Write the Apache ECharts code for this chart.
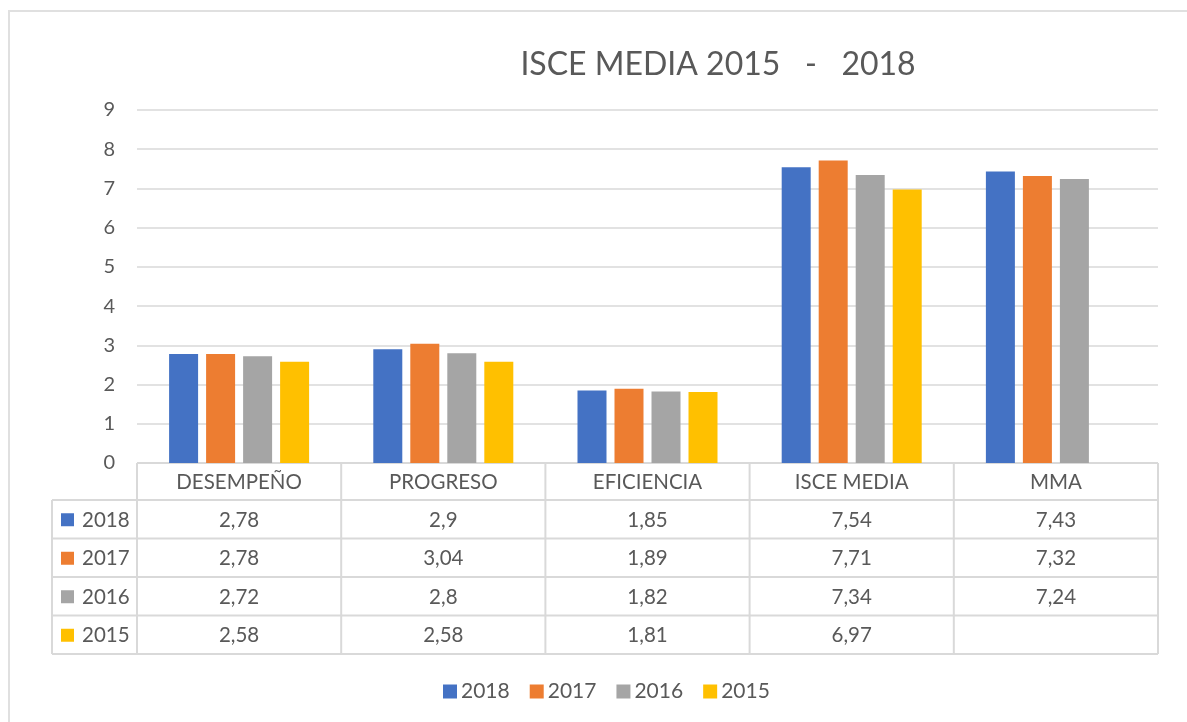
<!DOCTYPE html>
<html>
<head>
<meta charset="utf-8" />
<title>ISCE MEDIA 2015 - 2018</title>
<script src="https://cdn.jsdelivr.net/npm/echarts@6/dist/echarts.min.js"></script>
<style>body{margin:0;background:#fff}</style>
</head>
<body>
<div id="main" style="width:1187px;height:722px;"></div>
<script>
var categories = ['DESEMPEÑO', 'PROGRESO', 'EFICIENCIA', 'ISCE MEDIA', 'MMA'];
var years = ['2018', '2017', '2016', '2015'];
var colors = ['#4472c4', '#ed7d31', '#a5a5a5', '#ffc000'];
var v2018 = [2.78, 2.9, 1.85, 7.54, 7.43];
var v2017 = [2.78, 3.04, 1.89, 7.71, 7.32];
var v2016 = [2.72, 2.8, 1.82, 7.34, 7.24];
var v2015 = [2.58, 2.58, 1.81, 6.97, null];
var rows = [v2018, v2017, v2016, v2015];

var font = 'Lato, "Open Sans", sans-serif';
var txt = '#595959';
var lineCol = '#d9d9d9';

var chart = echarts.init(document.getElementById('main'));

var series = years.map(function (y, i) {
	return {
		name: y,
		type: 'bar',
		data: rows[i].map(function (v) { return v == null ? '-' : v; }),
		barWidth: 29,
		barGap: '27.6%',
		itemStyle: { color: colors[i] }
	};
});

var option = {
	backgroundColor: '#fff',
	animation: false,
	textStyle: { fontFamily: font },
	title: {
		text: 'ISCE MEDIA 2015   -   2018',
		left: 713,
		top: 44,
		textAlign: 'center',
		textStyle: { fontFamily: font, fontSize: 32, fontWeight: 'normal', color: txt }
	},
	legend: {
		data: years,
		top: 676,
		left: 438,
		icon: 'rect',
		itemWidth: 14,
		itemHeight: 14,
		itemGap: 20,
		textStyle: { fontFamily: font, fontSize: 21, color: txt, padding: [0, 0, 0, -1] }
	},
	grid: { left: 137, right: 29, top: 110, bottom: 259, containLabel: false },
	xAxis: {
		type: 'category',
		data: categories,
		axisLine: { show: false },
		axisTick: { show: false },
		axisLabel: { show: false }
	},
	yAxis: {
		type: 'value',
		min: 0,
		max: 9,
		interval: 1,
		axisLine: { show: false },
		axisTick: { show: false },
		axisLabel: { fontFamily: font, fontSize: 20, color: txt, margin: 22 },
		splitLine: { lineStyle: { color: lineCol, width: 1.5 } }
	},
	series: series
};
chart.setOption(option);

// data table under the plot, built from the axis positions
function fmt(v) { return v == null ? '' : String(v).replace('.', ','); }

function buildTable() {
	var g = [];
	var left = 137, right = 1187 - 29, keyLeft = 52;
	var y0 = chart.convertToPixel({ yAxisIndex: 0 }, 0);
	var colW = (right - left) / categories.length;
	var headH = 37, rowH = 38.5;
	var bottom = y0 + headH + rowH * rows.length;
	var ls = { stroke: lineCol, lineWidth: 2 };
	var f = '20.5px ' + font;

	// outer chart frame
	g.push({ type: 'rect', shape: { x: 9, y: 11, width: 1190, height: 720 }, style: { fill: null, stroke: '#e0e0e0', lineWidth: 2 }, silent: true });

	// horizontal lines
	g.push({ type: 'line', shape: { x1: left, y1: y0, x2: right, y2: y0 }, style: ls });
	for (var r = 0; r <= rows.length; r++) {
		var yy = y0 + headH + rowH * r;
		g.push({ type: 'line', shape: { x1: keyLeft, y1: yy, x2: right, y2: yy }, style: ls });
	}
	// vertical lines
	g.push({ type: 'line', shape: { x1: keyLeft, y1: y0 + headH, x2: keyLeft, y2: bottom }, style: ls });
	for (var c = 0; c <= categories.length; c++) {
		var xx = left + colW * c;
		g.push({ type: 'line', shape: { x1: xx, y1: y0, x2: xx, y2: bottom }, style: ls });
	}
	// header labels
	categories.forEach(function (name, i) {
		var cx = chart.convertToPixel({ xAxisIndex: 0 }, i);
		g.push({ type: 'text', x: cx, y: y0 + headH / 2 + 1, style: { text: name, fill: txt, font: f, align: 'center', verticalAlign: 'middle' } });
	});
	// rows
	rows.forEach(function (row, r) {
		var cy = y0 + headH + rowH * r + rowH / 2 + 1;
		g.push({ type: 'rect', shape: { x: 61, y: cy - 7, width: 13, height: 13 }, style: { fill: colors[r] } });
		g.push({ type: 'text', x: 82, y: cy, style: { text: years[r], fill: txt, font: f, align: 'left', verticalAlign: 'middle' } });
		row.forEach(function (v, i) {
			var cx = chart.convertToPixel({ xAxisIndex: 0 }, i);
			g.push({ type: 'text', x: cx, y: cy, style: { text: fmt(v), fill: txt, font: f, align: 'center', verticalAlign: 'middle' } });
		});
	});
	chart.setOption({ graphic: g });
}
buildTable();
</script>
</body>
</html>
